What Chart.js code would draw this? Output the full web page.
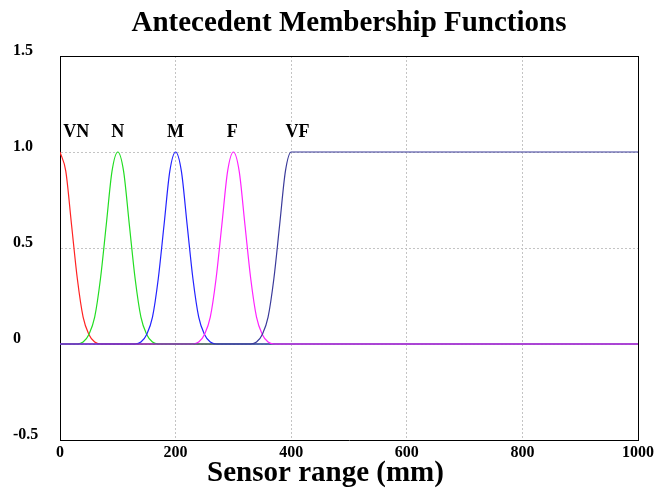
<!DOCTYPE html>
<html>
<head>
<meta charset="utf-8">
<title>Antecedent Membership Functions</title>
<script src="https://cdn.jsdelivr.net/npm/chart.js@4.4.0/dist/chart.umd.min.js"></script>
<style>
	body { margin: 0; background: #fff; }
</style>
</head>
<body>
<canvas id="mycanvas" width="656" height="489"></canvas>
<script>
// membership values, x in mm
var vnX = [0, 10, 20, 30, 40, 50, 60, 70, 1000];
var vnY = [1, 0.9, 0.62, 0.34, 0.14, 0.05, 0.01, 0, 0];

var nX = [0, 30, 40, 50, 60, 70, 80, 90, 100, 110, 120, 130, 140, 150, 160, 170, 1000];
var nY = [0, 0, 0.01, 0.05, 0.14, 0.34, 0.62, 0.9, 1, 0.9, 0.62, 0.34, 0.14, 0.05, 0.01, 0, 0];

var mX = [0, 130, 140, 150, 160, 170, 180, 190, 200, 210, 220, 230, 240, 250, 260, 270, 1000];
var mY = [0, 0, 0.01, 0.05, 0.14, 0.34, 0.62, 0.9, 1, 0.9, 0.62, 0.34, 0.14, 0.05, 0.01, 0, 0];

var fX = [0, 230, 240, 250, 260, 270, 280, 290, 300, 310, 320, 330, 340, 350, 360, 370, 1000];
var fY = [0, 0, 0.01, 0.05, 0.14, 0.34, 0.62, 0.9, 1, 0.9, 0.62, 0.34, 0.14, 0.05, 0.01, 0, 0];

var vfX = [0, 330, 340, 350, 360, 370, 380, 390, 400, 1000];
var vfY = [0, 0, 0.01, 0.05, 0.14, 0.34, 0.62, 0.9, 1, 1];

var termNames = ['VN', 'N', 'M', 'F', 'VF'];
var termLabelX = [28, 100, 200, 298, 411];
var termLabelY = 1.1;

var xTicks = [0, 200, 400, 600, 800, 1000];
var yTicks = [-0.5, 0, 0.5, 1, 1.5];
var yTickLabels = ['-0.5', '0', '0.5', '1.0', '1.5'];

var serif = '"Liberation Serif", "Times New Roman", serif';

function pts(xs, ys) {
	var out = [];
	for (var i = 0; i < xs.length; i++) {
		out.push({x: xs[i], y: ys[i]});
	}
	return out;
}

function mf(label, xs, ys, color) {
	return {
		label: label,
		data: pts(xs, ys),
		borderColor: color,
		borderWidth: 1.2,
		pointRadius: 0,
		pointHoverRadius: 0,
		fill: false,
		cubicInterpolationMode: 'monotone'
	};
}

function gridColor(ctx) {
	var v = ctx.tick ? ctx.tick.value : null;
	if (v === 0 && ctx.scale.axis === 'x') return 'rgba(0,0,0,0)';
	if (v === 1000 || v === -0.5 || v === 1.5) return 'rgba(0,0,0,0)';
	return '#c4c4c4';
}

// keep tick labels from pushing the plot box in
function noPad(scale) {
	scale.paddingLeft = 0;
	scale.paddingRight = 0;
	scale.paddingTop = 0;
	scale.paddingBottom = 0;
}

var termLabels = {
	id: 'termLabels',
	afterDatasetsDraw: function(chart) {
		var ctx = chart.ctx;
		var xs = chart.scales.x;
		var ys = chart.scales.y;
		ctx.save();
		ctx.font = 'bold 18px ' + serif;
		ctx.fillStyle = '#000';
		ctx.textAlign = 'center';
		ctx.textBaseline = 'middle';
		for (var i = 0; i < termNames.length; i++) {
			ctx.fillText(termNames[i], xs.getPixelForValue(termLabelX[i]), ys.getPixelForValue(termLabelY));
		}
		ctx.restore();
	}
};

var ctx = document.getElementById('mycanvas');

// first dataset is drawn on top
var chart = new Chart(ctx, {
	type: 'line',
	data: {
		datasets: [
			mf('VF', vfX, vfY, '#3a3a9a'),
			mf('F', fX, fY, '#ff22ff'),
			mf('M', mX, mY, '#2222ff'),
			mf('N', nX, nY, '#22dd22'),
			mf('VN', vnX, vnY, '#ff2222')
		]
	},
	options: {
		responsive: false,
		animation: false,
		devicePixelRatio: 1,
		layout: { autoPadding: false, padding: { left: 13, right: 18, top: 0, bottom: 3 } },
		plugins: {
			legend: { display: false },
			tooltip: { enabled: false },
			title: {
				display: true,
				position: 'bottom',
				text: 'Sensor range (mm)',
				color: '#000',
				font: { family: serif, size: 29, weight: 'bold', lineHeight: 0.862 },
				padding: { top: 0, bottom: 0 }
			}
		},
		scales: {
			x: {
				type: 'linear',
				position: 'bottom',
				min: 0,
				max: 1000,
				afterBuildTicks: function(scale) {
					scale.ticks = xTicks.map(function(v) { return {value: v}; });
				},
				afterFit: function(scale) {
					noPad(scale);
					scale.height = 21;
				},
				ticks: {
					color: '#000',
					font: { family: serif, size: 16, weight: 'bold', lineHeight: 1.06 },
					padding: 4,
					maxRotation: 0,
					autoSkip: false,
					callback: function(value) {
						return String(value);
					}
				},
				grid: { color: gridColor, drawTicks: false, lineWidth: 1 },
				border: { display: true, color: '#000', width: 1, dash: [2, 2] }
			},
			x2: {
				type: 'linear',
				position: 'top',
				min: 0,
				max: 1000,
				afterFit: function(scale) {
					noPad(scale);
					scale.height = 56;
				},
				ticks: { display: false },
				grid: { display: false, drawTicks: false },
				border: { display: true, color: '#000', width: 1 },
				title: {
					display: true,
					text: 'Antecedent Membership Functions',
					color: '#000',
					font: { family: serif, size: 29, weight: 'bold', lineHeight: 1.2 },
					padding: { top: 6, bottom: 15 }
				}
			},
			y: {
				type: 'linear',
				position: 'left',
				min: -0.5,
				max: 1.5,
				afterBuildTicks: function(scale) {
					scale.ticks = yTicks.map(function(v) { return {value: v}; });
				},
				afterFit: function(scale) {
					noPad(scale);
					scale.width = 47;
				},
				ticks: {
					color: '#000',
					font: { family: serif, size: 16, weight: 'bold' },
					crossAlign: 'far',
					labelOffset: -5.5,
					padding: 0,
					callback: function(value) {
						return yTickLabels[yTicks.indexOf(value)];
					}
				},
				grid: { color: gridColor, drawTicks: false, lineWidth: 1 },
				border: { display: true, color: '#000', width: 1, dash: [2, 2] }
			},
			y2: {
				type: 'linear',
				position: 'right',
				min: -0.5,
				max: 1.5,
				ticks: { display: false },
				grid: { display: false, drawTicks: false },
				border: { display: true, color: '#000', width: 1 },
				afterFit: function(scale) {
					noPad(scale);
					scale.width = 0;
				}
			}
		}
	},
	plugins: [termLabels]
});
</script>
</body>
</html>
